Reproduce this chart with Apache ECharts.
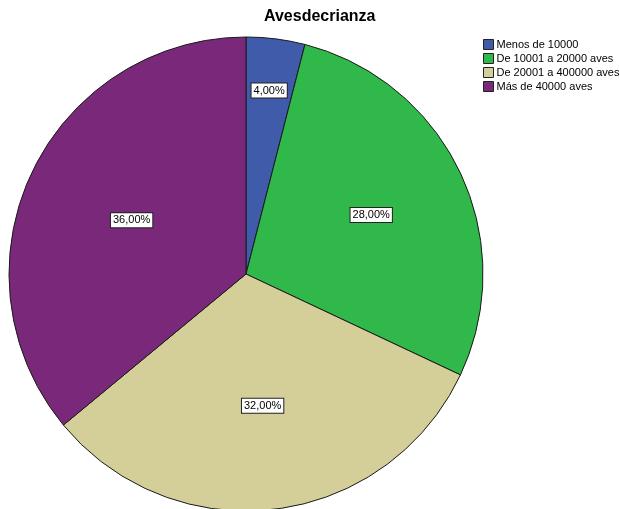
<!DOCTYPE html>
<html><head><meta charset="utf-8">
<script src="https://cdn.jsdelivr.net/npm/echarts@6/dist/echarts.min.js"></script>
<style>html,body{margin:0;padding:0;background:#fff}#c{width:620px;height:509px}</style>
</head><body><div id="c"></div>
<script>
const categories = ['Menos de 10000', 'De 10001 a 20000 aves', 'De 20001 a 400000 aves', 'Más de 40000 aves'];
const values = [4, 28, 32, 36];
const colors = ['#3F5BAA', '#30B84A', '#D4CE98', '#7A287A'];
const titleText = 'Avesdecrianza';

const CX = 246, CY = 274, R = 237;
const total = values.reduce((a, b) => a + b, 0);
const chart = echarts.init(document.getElementById('c'), null, {renderer: 'canvas'});
chart.setOption({
  animation: false,
  title: {text: titleText, left: 264, top: 9, padding: 0,
    textStyle: {fontFamily: 'Liberation Sans', fontSize: 16, fontWeight: 'bold', color: '#000'}},
  legend: {orient: 'vertical', left: 483, top: 39, padding: 0, itemWidth: 10, itemHeight: 10, itemGap: 3,
    icon: 'rect', data: categories,
    textStyle: {fontFamily: 'Liberation Sans', fontSize: 11, color: '#000', lineHeight: 10, padding: [0, 0, 0, -2]},
    itemStyle: {borderColor: '#222', borderWidth: 1}},
  series: [{
    type: 'pie', center: [CX, CY], radius: [0, R], startAngle: 90, clockwise: true,
    data: categories.map((n, i) => ({name: n, value: values[i], itemStyle: {color: colors[i]}})),
    itemStyle: {borderColor: '#1a1a1a', borderWidth: 1},
    label: {position: 'inside', fontFamily: 'Liberation Sans', fontSize: 11, color: '#000',
      backgroundColor: '#fff', borderColor: '#222', borderWidth: 1, padding: [2, 2, 1, 2],
      formatter: p => p.value.toFixed(2).replace('.', ',') + '%'},
    labelLine: {show: false},
    labelLayout: function (p) {
      const i = p.dataIndex;
      let before = 0; for (let k = 0; k < i; k++) before += values[k];
      const half = values[i] / total * Math.PI;
      const mid = (before / total) * 2 * Math.PI + half;
      let d = (2 * R * Math.sin(half)) / (3 * half);
      if (values[i] / total < 0.1) d = 0.78 * R;
      return {x: CX + d * Math.sin(mid), y: CY - d * Math.cos(mid)};
    },
    emphasis: {disabled: true}
  }]
});
</script></body></html>
